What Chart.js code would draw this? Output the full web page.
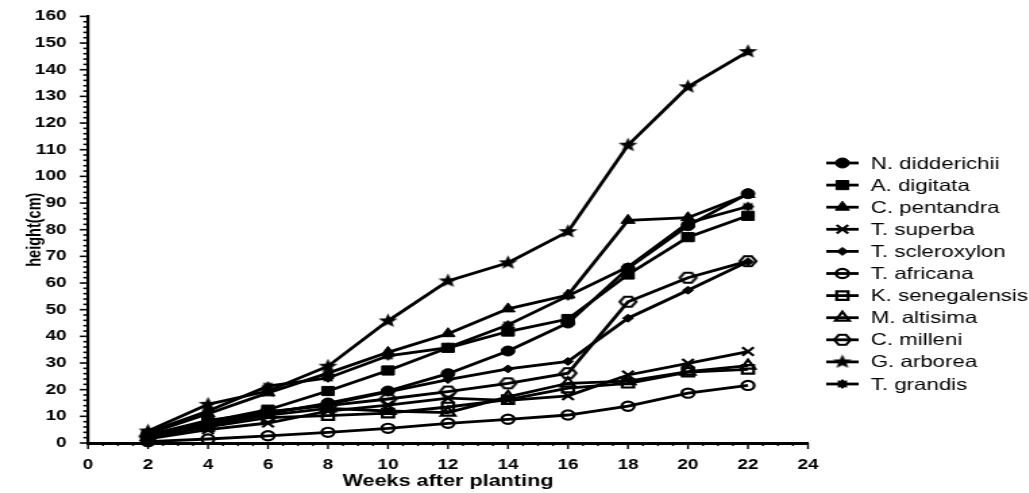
<!DOCTYPE html>
<html>
<head>
<meta charset="utf-8">
<script src="https://cdn.jsdelivr.net/npm/chart.js@4.4.1/dist/chart.umd.min.js"></script>
<style>
  html, body { margin: 0; padding: 0; background: #fff; overflow: hidden; }
  /* the reference is stretched sideways, so draw narrow and stretch */
  #growth-chart { display: block; transform: scaleX(1.35); transform-origin: 0 0; }
</style>
</head>
<body>
<canvas id="growth-chart" width="762" height="493"></canvas>
<script>
const weeks = [2, 4, 6, 8, 10, 12, 14, 16, 18, 20, 22];

const nDidderichii  = [3, 7.5, 11, 15, 19.5, 26, 34.5, 45, 65.5, 81.5, 93.5];
const aDigitata     = [3, 8, 12.5, 19.5, 27.2, 35.7, 41.8, 46.5, 63.2, 77.2, 85.2];
const cPentandra    = [3.5, 11, 18.8, 26.2, 34, 41, 50.3, 55.5, 83.5, 84.5, 93.2];
const tSuperba      = [1.5, 5, 7.5, 12, 14.2, 16.8, 16, 17.7, 25.5, 29.9, 34.3];
const tScleroxylon  = [3, 8.5, 11.5, 14.5, 19.2, 23.8, 27.8, 30.6, 46.8, 57.3, 68];
const tAfricana     = [0.5, 1.5, 2.7, 4, 5.5, 7.4, 8.9, 10.5, 13.8, 18.7, 21.6];
const kSenegalensis = [2, 6, 9.5, 10.3, 11.2, 13.5, 16.3, 20.6, 22.4, 26.6, 27.6];
const mAltisima     = [2.2, 6.5, 10.5, 13, 12, 11.4, 17.3, 22.4, 23.2, 26.8, 29];
const cMilleni      = [2.5, 7, 11.8, 14, 16.5, 19.3, 22.4, 26.2, 53, 62, 68.2];
const gArborea      = [4.5, 14.5, 19.5, 28.8, 45.8, 60.8, 67.6, 79.3, 111.7, 133.6, 146.8];
const tGrandis      = [4, 12, 21.3, 24.4, 32.7, 35.8, 44.3, 55.2, 66, 82.5, 88.7];

const seriesNames = ['N. didderichii', 'A. digitata', 'C. pentandra', 'T. superba', 'T. scleroxylon',
  'T. africana', 'K. senegalensis', 'M. altisima', 'C. milleni', 'G. arborea', 'T. grandis'];
const seriesValues = [nDidderichii, aDigitata, cPentandra, tSuperba, tScleroxylon,
  tAfricana, kSenegalensis, mAltisima, cMilleni, gArborea, tGrandis];

const xTicks = [0, 2, 4, 6, 8, 10, 12, 14, 16, 18, 20, 22, 24];
const yTicks = [0, 10, 20, 30, 40, 50, 60, 70, 80, 90, 100, 110, 120, 130, 140, 150, 160];

const FONT = '"Liberation Sans", Arial, sans-serif';

function makeStar(points, outer, inner) {
  const size = Math.ceil(outer * 2 + 2);
  const c = document.createElement('canvas');
  c.width = size; c.height = size;
  const g = c.getContext('2d');
  g.translate(size / 2, size / 2);
  g.beginPath();
  for (let i = 0; i < points * 2; i++) {
    const r = i % 2 ? inner : outer;
    const a = -Math.PI / 2 + i * Math.PI / points;
    g.lineTo(r * Math.cos(a), r * Math.sin(a));
  }
  g.closePath();
  g.fillStyle = '#000';
  g.fill();
  return c;
}

function makeHexagon(w, h) {
  const c = document.createElement('canvas');
  c.width = w + 4; c.height = h + 4;
  const g = c.getContext('2d');
  g.translate(2, 2);
  g.beginPath();
  g.moveTo(0, h / 2);
  g.lineTo(w * 0.28, 0);
  g.lineTo(w * 0.72, 0);
  g.lineTo(w, h / 2);
  g.lineTo(w * 0.72, h);
  g.lineTo(w * 0.28, h);
  g.closePath();
  g.lineWidth = 2.2;
  g.strokeStyle = '#000';
  g.stroke();
  return c;
}

// marker look for each series, same order as seriesNames
const markers = [
  { style: 'circle', r: 5, filled: true },
  { style: 'rect', r: 6.5, filled: true },
  { style: 'triangle', r: 6, filled: true },
  { style: 'crossRot', r: 6, filled: false },
  { style: 'rectRot', r: 4, filled: true },
  { style: 'circle', r: 4.6, filled: false },
  { style: 'rect', r: 6, filled: false },
  { style: 'triangle', r: 6, filled: false },
  { style: makeHexagon(12, 10), r: 5, filled: false },
  { style: makeStar(5, 7.5, 3.2), r: 6, filled: true },
  { style: makeStar(8, 5, 3.6), r: 4, filled: true }
];

const datasets = seriesNames.map((name, i) => ({
  label: name,
  data: seriesValues[i].map((v, j) => ({ x: weeks[j], y: v })),
  borderColor: '#000',
  borderWidth: 2.8,
  tension: 0,
  clip: false,
  pointStyle: markers[i].style,
  pointRadius: markers[i].r,
  pointHoverRadius: markers[i].r,
  pointBackgroundColor: markers[i].filled ? '#000' : 'rgba(0,0,0,0)',
  pointBorderColor: '#000',
  pointBorderWidth: markers[i].filled ? 1 : 2.2
}));

const axisExtras = {
  id: 'axisExtras',
  afterDraw(chart) {
    const ctx = chart.ctx;
    const xs = chart.scales.x, ys = chart.scales.y;
    ctx.save();
    ctx.strokeStyle = '#000';
    ctx.lineWidth = 1.4;
    // minor and major tick marks
    for (let v = 0; v <= 24; v += 0.5) {
      const px = xs.getPixelForValue(v);
      const len = v % 2 === 0 ? 6 : 3;
      ctx.beginPath();
      ctx.moveTo(px, xs.top);
      ctx.lineTo(px, xs.top + len);
      ctx.stroke();
    }
    ctx.lineWidth = 1.6;
    for (let v = 0; v <= 160; v += 2) {
      const py = ys.getPixelForValue(v);
      const len = v % 10 === 0 ? 6 : 3.5;
      ctx.beginPath();
      ctx.moveTo(ys.right - len, py);
      ctx.lineTo(ys.right, py);
      ctx.stroke();
    }

    // axis titles
    ctx.fillStyle = '#000';
    ctx.textAlign = 'center';
    ctx.textBaseline = 'middle';
    ctx.font = 'bold 16px ' + FONT;
    ctx.fillText('Weeks after planting', (xs.left + xs.right) / 2, 482);
    ctx.save();
    ctx.translate(26, (ys.top + ys.bottom) / 2);
    ctx.rotate(-Math.PI / 2);
    ctx.font = 'bold 14.5px ' + FONT;
    ctx.fillText('height(cm)', 0, 0);
    ctx.restore();

    // legend: line sample with marker, then name
    const top = 163, step = 22.1;
    chart.data.datasets.forEach((ds, i) => {
      const y = top + i * step;
      ctx.strokeStyle = '#000';
      ctx.lineWidth = 2.8;
      ctx.beginPath();
      ctx.moveTo(612, y);
      ctx.lineTo(636, y);
      ctx.stroke();
      ctx.fillStyle = ds.pointBackgroundColor;
      ctx.lineWidth = ds.pointBorderWidth;
      Chart.helpers.drawPoint(ctx, {
        pointStyle: ds.pointStyle, radius: ds.pointRadius, rotation: 0, borderWidth: ds.pointBorderWidth
      }, 624, y);
      ctx.fillStyle = '#000';
      ctx.font = '16.5px ' + FONT;
      ctx.textAlign = 'left';
      ctx.textBaseline = 'middle';
      ctx.fillText(ds.label, 645, y + 1);
    });
    ctx.restore();
  }
};

new Chart(document.getElementById('growth-chart'), {
  type: 'line',
  data: { datasets: datasets },
  options: {
    responsive: false,
    animation: false,
    events: [],
    layout: { padding: { left: 0, right: 163.5, top: 16, bottom: 0 } },
    plugins: { legend: { display: false }, tooltip: { enabled: false } },
    scales: {
      x: {
        type: 'linear',
        min: 0,
        max: 24,
        afterBuildTicks: s => { s.ticks = xTicks.map(v => ({ value: v })); },
        afterFit: s => { s.height = 50; },
        grid: { display: false },
        border: { display: true, color: '#000', width: 3 },
        ticks: { color: '#000', padding: 6, maxRotation: 0, autoSkip: false,
          font: { family: FONT, size: 14, weight: 'bold' } }
      },
      y: {
        type: 'linear',
        min: 0,
        max: 160,
        afterBuildTicks: s => { s.ticks = yTicks.map(v => ({ value: v })); },
        afterFit: s => { s.width = 65.2; },
        grid: { display: false },
        border: { display: true, color: '#000', width: 2.2 },
        ticks: { color: '#000', padding: 8, autoSkip: false,
          font: { family: FONT, size: 14, weight: 'bold' } }
      }
    }
  },
  plugins: [axisExtras]
});
</script>
</body>
</html>
